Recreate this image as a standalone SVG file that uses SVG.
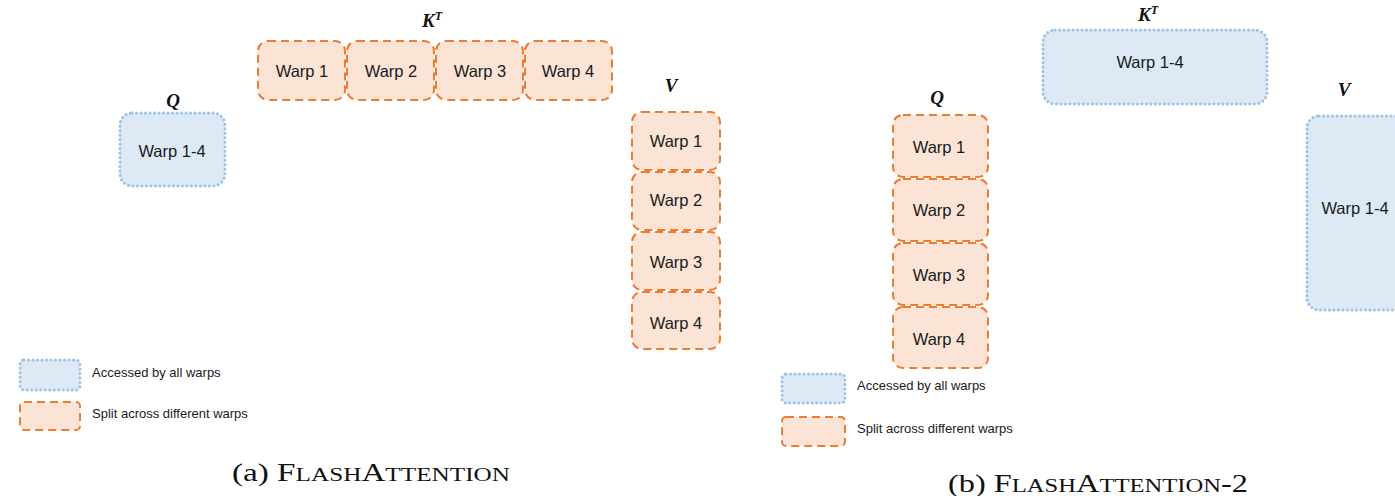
<svg xmlns="http://www.w3.org/2000/svg" width="1395" height="496" viewBox="0 0 1395 496">
  <style>
    .shared { fill: #dee9f6; stroke: #9dc3e6; stroke-width: 3; stroke-dasharray: 0.1 4.4; stroke-linecap: round; }
    .split { fill: #fbe4d6; stroke: #ed7d31; stroke-width: 2; stroke-dasharray: 8 5; }
    .lbl { font-family: "Liberation Sans", Arial, sans-serif; font-size: 16.5px; fill: #1a1a1a; text-anchor: middle; dominant-baseline: central; }
    .leg { font-family: "Liberation Sans", Arial, sans-serif; font-size: 13px; fill: #1a1a1a; dominant-baseline: central; }
    .mat { font-family: "Liberation Serif", "Times New Roman", serif; font-size: 19px; font-weight: bold; font-style: italic; fill: #111; text-anchor: middle; }
    .cap { font-family: "Liberation Serif", "Times New Roman", serif; font-size: 25px; fill: #111; }
  </style>

  <!-- (a) FlashAttention -->
  <g id="a-q">
    <text class="mat" x="173" y="107">Q</text>
    <rect class="shared" x="120" y="113" width="105" height="73" rx="12"/>
    <text class="lbl" x="172" y="151">Warp 1-4</text>
  </g>
  <g id="a-kt">
    <text class="mat" x="432" y="27">K<tspan font-size="12" dy="-7">T</tspan></text>
    <rect class="split" x="258" y="41" width="87" height="59" rx="10"/>
    <text class="lbl" x="302" y="71">Warp 1</text>
    <rect class="split" x="347" y="41" width="87" height="59" rx="10"/>
    <text class="lbl" x="391" y="71">Warp 2</text>
    <rect class="split" x="436" y="41" width="87" height="59" rx="10"/>
    <text class="lbl" x="480" y="71">Warp 3</text>
    <rect class="split" x="525" y="41" width="87" height="59" rx="10"/>
    <text class="lbl" x="568" y="71">Warp 4</text>
  </g>
  <g id="a-v">
    <text class="mat" x="671" y="92">V</text>
    <rect class="split" x="632" y="112" width="88" height="58" rx="10"/>
    <text class="lbl" x="676" y="141">Warp 1</text>
    <rect class="split" x="632" y="172" width="88" height="58" rx="10"/>
    <text class="lbl" x="676" y="200">Warp 2</text>
    <rect class="split" x="632" y="232" width="88" height="58" rx="10"/>
    <text class="lbl" x="676" y="262">Warp 3</text>
    <rect class="split" x="632" y="292" width="88" height="57" rx="10"/>
    <text class="lbl" x="676" y="323">Warp 4</text>
  </g>
  <g id="a-legend">
    <rect class="shared" x="20" y="360" width="60" height="30" rx="4"/>
    <text class="leg" x="92" y="372">Accessed by all warps</text>
    <rect class="split" x="20" y="402" width="60" height="28" rx="4"/>
    <text class="leg" x="92" y="413">Split across different warps</text>
  </g>
  <text class="cap" x="232" y="481" textLength="278" lengthAdjust="spacingAndGlyphs">(a) F<tspan font-size="19">LASH</tspan>A<tspan font-size="19">TTENTION</tspan></text>

  <!-- (b) FlashAttention-2 -->
  <g id="b-q">
    <text class="mat" x="937" y="104">Q</text>
    <rect class="split" x="893" y="115" width="95" height="62" rx="10"/>
    <text class="lbl" x="939" y="147">Warp 1</text>
    <rect class="split" x="893" y="179" width="95" height="62" rx="10"/>
    <text class="lbl" x="939" y="210">Warp 2</text>
    <rect class="split" x="893" y="243" width="95" height="62" rx="10"/>
    <text class="lbl" x="939" y="275">Warp 3</text>
    <rect class="split" x="893" y="307" width="95" height="61" rx="10"/>
    <text class="lbl" x="939" y="339">Warp 4</text>
  </g>
  <g id="b-kt">
    <text class="mat" x="1148" y="21">K<tspan font-size="12" dy="-7">T</tspan></text>
    <rect class="shared" x="1043" y="30" width="224" height="74" rx="12"/>
    <text class="lbl" x="1150" y="62">Warp 1-4</text>
  </g>
  <g id="b-v">
    <text class="mat" x="1344" y="96">V</text>
    <rect class="shared" x="1307" y="116" width="110" height="194" rx="12"/>
    <text class="lbl" x="1355" y="208">Warp 1-4</text>
  </g>
  <g id="b-legend">
    <rect class="shared" x="782" y="374" width="63" height="29" rx="4"/>
    <text class="leg" x="857" y="385">Accessed by all warps</text>
    <rect class="split" x="782" y="417" width="63" height="29" rx="4"/>
    <text class="leg" x="857" y="428">Split across different warps</text>
  </g>
  <text class="cap" x="948" y="492" textLength="300" lengthAdjust="spacingAndGlyphs">(b) F<tspan font-size="19">LASH</tspan>A<tspan font-size="19">TTENTION</tspan>-2</text>

  <g id="connectors"/>
</svg>
